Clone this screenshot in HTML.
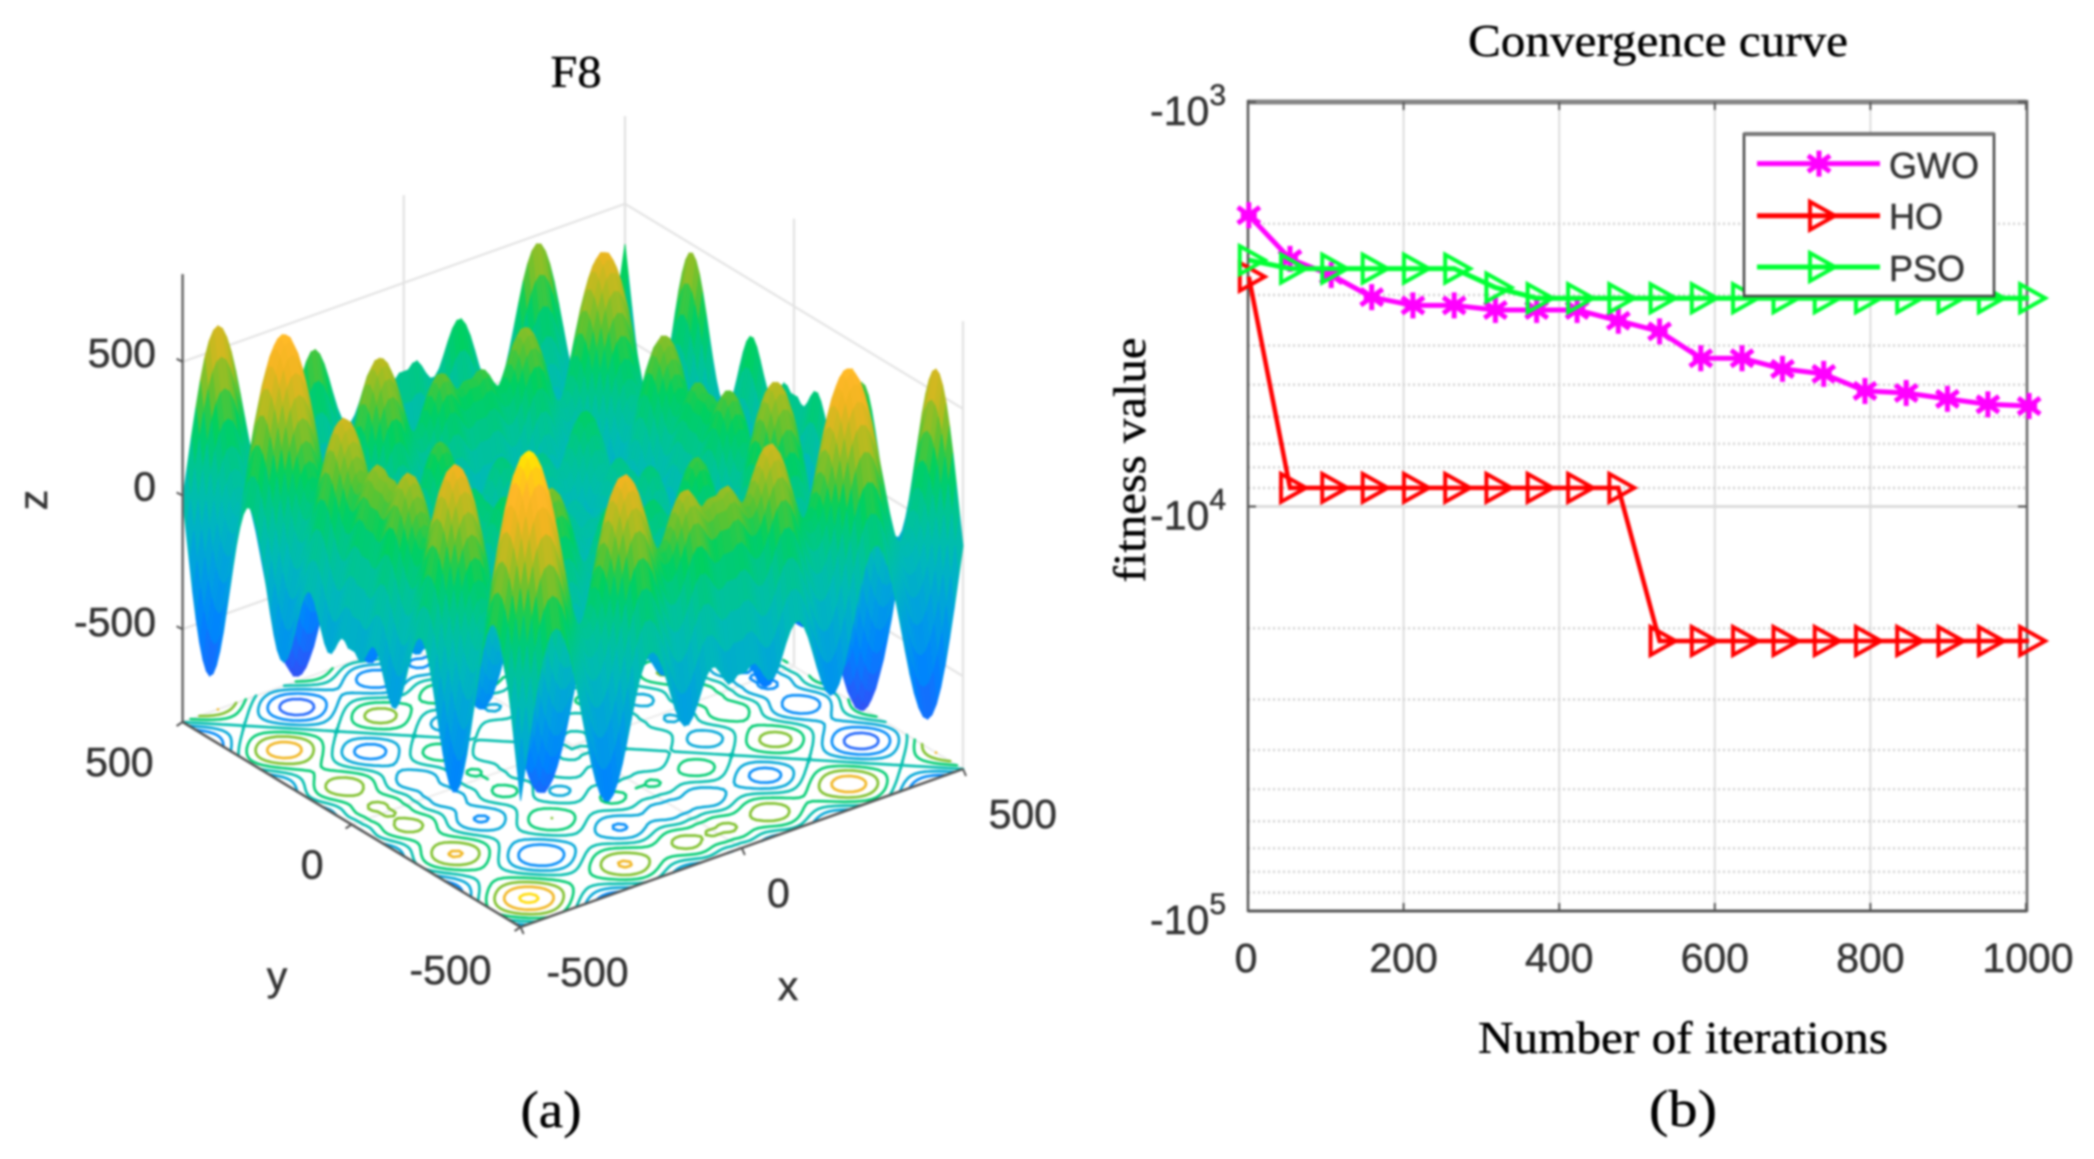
<!DOCTYPE html>
<html lang="en">
<head>
<meta charset="utf-8">
<title>F8 surface and convergence curve</title>
<style>
html,body{margin:0;padding:0;background:#fff;width:2094px;height:1159px;overflow:hidden}
svg{position:absolute;left:0;top:0;filter:blur(1px)}
.sans{font-family:"Liberation Sans",sans-serif;fill:#333;font-size:41px;stroke:#333;stroke-width:.5px}
.serif{font-family:"Liberation Serif",serif;fill:#000;font-size:45px;stroke:#000;stroke-width:.4px}
</style>
</head>
<body>
<svg id="figure" xmlns="http://www.w3.org/2000/svg" width="2094" height="1159" viewBox="0 0 2094 1159">
  <rect x="0" y="0" width="2094" height="1159" fill="#fff"/>
  <g id="panel-a">
    <g id="walls"></g>
    <g id="contours"></g>
    <g id="surface"></g>
    <g id="axes3d"></g>
    <text class="serif" x="576" y="87" text-anchor="middle" font-size="46" textLength="51" lengthAdjust="spacingAndGlyphs">F8</text>
    <text class="sans" x="0" y="0" transform="translate(47,500) rotate(-90)" text-anchor="middle">z</text>
    <text class="sans" x="277" y="990" text-anchor="middle">y</text>
    <text class="sans" x="788" y="1000" text-anchor="middle">x</text>
    <text class="serif" x="551" y="1127" text-anchor="middle" style="font-size:52px" textLength="61" lengthAdjust="spacingAndGlyphs">(a)</text>
  </g>
  <g id="panel-b">
    <g id="grid"></g>
    <g id="frame">
      <line x1="1248" y1="102" x2="2026" y2="102" stroke="#858585" stroke-width="5"/>
      <line x1="1248" y1="100" x2="1248" y2="912" stroke="#555" stroke-width="2.5"/>
      <line x1="2027" y1="100" x2="2027" y2="912" stroke="#666" stroke-width="2.5"/>
      <line x1="1248" y1="911" x2="2027" y2="911" stroke="#555" stroke-width="3"/>
    </g>
    <g id="ticks"></g>
    <g id="series"></g>
    <g id="legend">
      <rect x="1744" y="134" width="250" height="162" fill="#fff" stroke="#444" stroke-width="2.5"/>
      <line x1="1744" y1="134" x2="1994" y2="134" stroke="#777" stroke-width="4"/>
      <text class="sans" x="1889" y="178" style="font-size:36px">GWO</text>
      <text class="sans" x="1889" y="229" style="font-size:36px">HO</text>
      <text class="sans" x="1889" y="281" style="font-size:36px">PSO</text>
    </g>
    <text class="serif" x="1658" y="56" text-anchor="middle" textLength="380" lengthAdjust="spacingAndGlyphs">Convergence curve</text>
    <text class="serif" x="0" y="0" transform="translate(1145,460) rotate(-90)" text-anchor="middle" textLength="245" lengthAdjust="spacingAndGlyphs">fitness value</text>
    <text class="serif" x="1683" y="1053" text-anchor="middle" textLength="410" lengthAdjust="spacingAndGlyphs">Number of iterations</text>
    <text class="serif" x="1683" y="1126" text-anchor="middle" style="font-size:52px" textLength="68" lengthAdjust="spacingAndGlyphs">(b)</text>
  </g>
</svg>
<script>
/* ---------- panel (b) data ---------- */
const iterations = [1, 54, 107, 159, 212, 265, 318, 371, 423, 476, 529, 582, 635, 687, 740, 793, 846, 899, 951, 1004];
const gwoFitness = [-1905, -2443, -2677, -3037, -3183, -3183, -3268, -3268, -3268, -3473, -3690, -4300, -4300, -4570, -4700, -5180, -5240, -5420, -5590, -5645];
const hoFitness = [-2704, -8995, -8995, -8995, -8995, -8995, -8995, -8995, -8995, -8995, -21500, -21500, -21500, -21500, -21500, -21500, -21500, -21500, -21500, -21500];
const psoFitness = [-2460, -2582, -2582, -2582, -2582, -2582, -2875, -3055, -3055, -3055, -3055, -3055, -3055, -3055, -3055, -3055, -3055, -3055, -3055, -3055];
const xTickValues = [0, 200, 400, 600, 800, 1000];
const yTickExponents = [3, 4, 5];
const minorMultipliers = [2, 3, 4, 5, 6, 7, 8, 9];
const minorDecades = [3, 4];

/* ---------- panel (a) data: z profile along one axis, x = -500 to 500 in steps of 10 ---------- */
const surfaceProfile = [-181,-71,39,144,238,316,374,409,419,404,365,305,228,139,45,-49,-136,-208,-262,-294,-300,-281,-239,-179,-105,-26,51,119,169,197,200,178,135,77,13,-47,-94,-120,-120,-96,-54,-6,37,61,60,35,2,-22,-19,0,0,0,19,22,-2,-35,-60,-61,-37,6,54,96,120,120,94,47,-13,-77,-135,-178,-200,-197,-169,-119,-51,26,105,179,239,281,300,294,262,208,136,49,-45,-139,-228,-305,-365,-404,-419,-409,-374,-316,-238,-144,-39,71,181];
const contourLevels = [-800, -600, -400, -200, 0, 200, 400, 600, 800];
const zTickValues = [-500, 0, 500];
const xyTickValues = [-500, 0, 500];

const NS = 'http://www.w3.org/2000/svg';
function svgEl(tag, attrs, parent) {
  const el = document.createElementNS(NS, tag);
  for (const k in attrs) el.setAttribute(k, attrs[k]);
  parent.appendChild(el);
  return el;
}

/* ---------- 3D projection ---------- */
const zBase = -847, zTop = 828;
function project(x, y, z) {
  const u = (x + 500) / 1000, v = (y + 500) / 1000;
  return [520.6 + 442.4 * u - 338 * v, 927 - 158 * u - 205 * v - (z - zBase) * 0.2674];
}
function rampColor(z) {
  const s = [[-840,[74,62,224]],[-650,[40,90,250]],[-450,[0,130,255]],[-250,[0,160,225]],[-50,[0,185,185]],[100,[0,196,150]],[250,[0,208,96]],[350,[90,195,50]],[470,[176,188,32]],[600,[240,181,32]],[700,[255,184,40]],[790,[255,215,10]],[838,[255,240,0]]];
  if (z <= s[0][0]) return 'rgb(' + s[0][1].join(',') + ')';
  for (let i = 1; i < s.length; i++) {
    if (z <= s[i][0]) {
      const t = (z - s[i-1][0]) / (s[i][0] - s[i-1][0]);
      const c = s[i-1][1].map((a, k) => Math.round(a + (s[i][1][k] - a) * t));
      return 'rgb(' + c.join(',') + ')';
    }
  }
  return 'rgb(255,240,0)';
}
const n = surfaceProfile.length;
function coord(i) { return -500 + i * 1000 / (n - 1); }
function zAt(i, j) { return surfaceProfile[i] + surfaceProfile[j]; }

/* walls */
const walls = document.getElementById('walls');
zTickValues.forEach(function (z) {
  const a = project(-500, 500, z), b = project(500, 500, z), c = project(500, -500, z);
  const wall = svgEl('polyline', {points: a.join(',') + ' ' + b.join(',') + ' ' + c.join(','), fill: 'none', stroke: '#e4e4e4', 'stroke-width': 2.2}, walls);
  
  
});
xyTickValues.forEach(function (t) {
  const a = project(t, 500, zBase), b = project(t, 500, zTop);
  const l1 = svgEl('line', {x1: a[0], y1: a[1], x2: b[0], y2: b[1], stroke: '#e2e2e2', 'stroke-width': 2.2}, walls);
  
  
  const c = project(500, t, zBase), d = project(500, t, zTop);
  const l2 = svgEl('line', {x1: c[0], y1: c[1], x2: d[0], y2: d[1], stroke: '#e2e2e2', 'stroke-width': 2.2}, walls);
  
  
  const e = project(t, -500, zBase);
  const l3 = svgEl('line', {x1: a[0], y1: a[1], x2: e[0], y2: e[1], stroke: '#ececec', 'stroke-width': 2}, walls);
  
  
  const f = project(-500, t, zBase);
  const l4 = svgEl('line', {x1: c[0], y1: c[1], x2: f[0], y2: f[1], stroke: '#ececec', 'stroke-width': 2}, walls);
  
  
});

/* contours by marching squares */
const contourGroup = document.getElementById('contours');
contourLevels.forEach(function (level) {
  let d = '';
  function cross(i1, j1, i2, j2) {
    const a = zAt(i1, j1), b = zAt(i2, j2);
    const t = (level - a) / (b - a);
    const p = project(coord(i1) + (coord(i2) - coord(i1)) * t, coord(j1) + (coord(j2) - coord(j1)) * t, zBase);
    return p[0].toFixed(1) + ' ' + p[1].toFixed(1);
  }
  for (let i = 0; i < n - 1; i++) {
    for (let j = 0; j < n - 1; j++) {
      const a = zAt(i, j) >= level, b = zAt(i + 1, j) >= level, c = zAt(i + 1, j + 1) >= level, e = zAt(i, j + 1) >= level;
      const pts = [];
      if (a !== b) pts.push(cross(i, j, i + 1, j));
      if (b !== c) pts.push(cross(i + 1, j, i + 1, j + 1));
      if (c !== e) pts.push(cross(i + 1, j + 1, i, j + 1));
      if (e !== a) pts.push(cross(i, j + 1, i, j));
      for (let k = 0; k + 1 < pts.length; k += 2) d += 'M' + pts[k] + 'L' + pts[k + 1];
    }
  }
  const path = svgEl('path', {d: d, fill: 'none', stroke: rampColor(level), 'stroke-width': 2.6, 'stroke-linecap': 'round'}, contourGroup);
  
  
});

/* surface: painter's order, far corner first */
const surfaceGroup = document.getElementById('surface');
const surfaceDrop = 3.5;
for (let sum = 2 * (n - 2); sum >= 0; sum--) {
  for (let i = Math.max(0, sum - (n - 2)); i <= Math.min(n - 2, sum); i++) {
    const j = sum - i;
    const z1 = zAt(i, j), z2 = zAt(i + 1, j), z3 = zAt(i + 1, j + 1), z4 = zAt(i, j + 1);
    const p = [project(coord(i), coord(j), z1), project(coord(i + 1), coord(j), z2), project(coord(i + 1), coord(j + 1), z3), project(coord(i), coord(j + 1), z4)];
    const col = rampColor((z1 + z2 + z3 + z4) / 4);
    const cell = svgEl('polygon', {points: p.map(q => q[0].toFixed(1) + ',' + (q[1] + surfaceDrop).toFixed(1)).join(' '), fill: col, stroke: col, 'stroke-width': 0.9}, surfaceGroup);
    
    
  }
}

/* 3D axes */
const axes3d = document.getElementById('axes3d');
const cLeft = project(-500, 500, zBase), cFront = project(-500, -500, zBase), cRight = project(500, -500, zBase), cLeftTop = project(-500, 500, zTop);
const zAxis = svgEl('line', {x1: cLeft[0], y1: cLeft[1], x2: cLeftTop[0], y2: cLeftTop[1], stroke: '#666', 'stroke-width': 2.5}, axes3d);


const yAxis = svgEl('line', {x1: cLeft[0], y1: cLeft[1], x2: cFront[0], y2: cFront[1], stroke: '#555', 'stroke-width': 2.5}, axes3d);


const xAxis = svgEl('line', {x1: cFront[0], y1: cFront[1], x2: cRight[0], y2: cRight[1], stroke: '#555', 'stroke-width': 2.5}, axes3d);



function label3d(parent, txt, x, y, name) {
  const t = svgEl('text', {x: x, y: y, 'text-anchor': 'end', class: 'sans'}, parent);
  t.textContent = txt;
  
  
}
zTickValues.forEach(function (z) {
  const p = project(-500, 500, z);
  const tk = svgEl('line', {x1: p[0], y1: p[1], x2: p[0] - 6, y2: p[1] - 3, stroke: '#555', 'stroke-width': 2}, axes3d);
  
  
  label3d(axes3d, String(z), 156, p[1] + (z < 0 ? 7 : 5), 'z-tick-label');
});
xyTickValues.forEach(function (v) {
  const px = project(v, -500, zBase);
  const tx = svgEl('line', {x1: px[0], y1: px[1], x2: px[0] + 3, y2: px[1] + 7, stroke: '#555', 'stroke-width': 2}, axes3d);
  
  
  label3d(axes3d, String(v), px[0] + (v === 500 ? 94 : v === 0 ? 48 : 108), px[1] + 59, 'x-tick-label');
  const py = project(-500, v, zBase);
  const ty = svgEl('line', {x1: py[0], y1: py[1], x2: py[0] - 6, y2: py[1] + 4, stroke: '#555', 'stroke-width': 2}, axes3d);
  
  
  label3d(axes3d, String(v), py[0] + (v === 0 ? -28 : -29), py[1] + (v === -500 ? 57 : 54), 'y-tick-label');
});

/* ---------- panel (b) ---------- */
function xScale(v) { return 1248 + v * 0.778; }
function yScale(v) { return 102 + (Math.log10(-v) - 3) * 404.5; }
const grid = document.getElementById('grid');
xTickValues.slice(1, -1).forEach(function (v) {
  const l = svgEl('line', {x1: xScale(v), y1: 102, x2: xScale(v), y2: 911, stroke: '#dcdcdc', 'stroke-width': 2}, grid);
  
  
});
minorDecades.forEach(function (d) {
  minorMultipliers.forEach(function (m) {
    const val = -m * Math.pow(10, d);
    const l = svgEl('line', {x1: 1248, y1: yScale(val), x2: 2026, y2: yScale(val), stroke: '#cfcfcf', 'stroke-width': 2.4, 'stroke-dasharray': '2 3'}, grid);
    
    
  });
});
const major = svgEl('line', {x1: 1248, y1: yScale(-10000), x2: 2026, y2: yScale(-10000), stroke: '#dcdcdc', 'stroke-width': 3}, grid);



const ticks = document.getElementById('ticks');
xTickValues.forEach(function (v) {
  const b = svgEl('line', {x1: xScale(v), y1: 911, x2: xScale(v), y2: 903, stroke: '#555', 'stroke-width': 2}, ticks);
  
  
  const t = svgEl('line', {x1: xScale(v), y1: 102, x2: xScale(v), y2: 110, stroke: '#555', 'stroke-width': 2}, ticks);
  
  
  const lab = svgEl('text', {x: xScale(v) - (v === 0 ? 2 : 0) + (v === 1000 ? 2 : 0), y: 972, 'text-anchor': 'middle', class: 'sans'}, ticks);
  lab.textContent = String(v);
  
  
});
yTickExponents.forEach(function (e) {
  const yy = yScale(-Math.pow(10, e));
  const t1 = svgEl('line', {x1: 1248, y1: yy, x2: 1256, y2: yy, stroke: '#555', 'stroke-width': 2}, ticks);
  
  
  const t2 = svgEl('line', {x1: 2026, y1: yy, x2: 2018, y2: yy, stroke: '#555', 'stroke-width': 2}, ticks);
  
  
  const lab = svgEl('text', {x: 1226, y: yy + 23, 'text-anchor': 'end', class: 'sans'}, ticks);
  
  
  const base = svgEl('tspan', {}, lab);
  base.textContent = '-10';
  const sup = svgEl('tspan', {dy: -20, style: 'font-size:30px'}, lab);
  sup.textContent = String(e);
});

function drawTriangle(parent, cx, cy, color, name) {
  const pts = [[cx - 9, cy - 14], [cx + 16, cy], [cx - 9, cy + 14]].map(p => p.join(',')).join(' ');
  const m = svgEl('polygon', {points: pts, fill: 'none', stroke: color, 'stroke-width': 4}, parent);
  
  
}
function drawStar(parent, cx, cy, color, name) {
  const d = 'M' + cx + ' ' + (cy - 13) + 'V' + (cy + 13) +
    'M' + (cx - 11) + ' ' + (cy - 8) + 'L' + (cx + 11) + ' ' + (cy + 8) +
    'M' + (cx - 11) + ' ' + (cy + 8) + 'L' + (cx + 11) + ' ' + (cy - 8) +
    'M' + (cx - 8) + ' ' + cy + 'H' + (cx + 8);
  const m = svgEl('path', {d: d, fill: 'none', stroke: color, 'stroke-width': 5}, parent);
  
  
}
function drawSeries(values, color, kind, seriesName, lineWidth) {
  const g = svgEl('g', {}, document.getElementById('series'));
  
  
  const pts = values.map((v, i) => xScale(iterations[i]).toFixed(1) + ',' + yScale(v).toFixed(1)).join(' ');
  const line = svgEl('polyline', {points: pts, fill: 'none', stroke: color, 'stroke-width': lineWidth}, g);
  
  
  values.forEach(function (v, i) {
    const cx = xScale(iterations[i]), cy = yScale(v);
    if (kind === 'star') drawStar(g, cx, cy, color, seriesName + '-marker');
    else drawTriangle(g, cx, cy, color, seriesName + '-marker');
  });
}
drawSeries(gwoFitness, '#ff00ff', 'star', 'gwo', 5);
drawSeries(hoFitness, '#ff0000', 'tri', 'ho', 4.5);
drawSeries(psoFitness, '#00ff33', 'tri', 'pso', 5);

/* legend keys */
const legend = document.getElementById('legend');
const legendKeys = [['#ff00ff', 'star', 'gwo', 163.6], ['#ff0000', 'tri', 'ho', 215.7], ['#00ff33', 'tri', 'pso', 267]];
legendKeys.forEach(function (k) {
  const l = svgEl('line', {x1: 1757, y1: k[3], x2: 1880, y2: k[3], stroke: k[0], 'stroke-width': 5}, legend);
  
  
  if (k[1] === 'star') drawStar(legend, 1819, k[3], k[0], 'legend-marker-' + k[2]);
  else drawTriangle(legend, 1819, k[3], k[0], 'legend-marker-' + k[2]);
});
</script>
</body>
</html>
